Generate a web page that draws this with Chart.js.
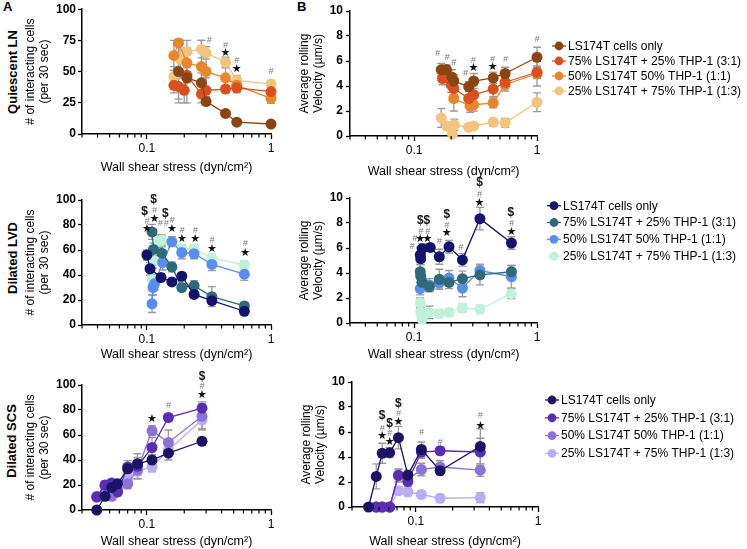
<!DOCTYPE html>
<html>
<head>
<meta charset="utf-8">
<script src="https://cdn.jsdelivr.net/npm/chart.js@4.4.1/dist/chart.umd.min.js"></script>
<style>
  body { margin: 0; background: #fff; }
  #fig { position: relative; width: 747px; height: 549px; overflow: hidden; font-family: "Liberation Sans", Arial, sans-serif; color: #000; }
  canvas { position: absolute; }
  .rowlab { position: absolute; font-weight: bold; font-size: 13px; white-space: nowrap; transform: translate(-50%, -50%) rotate(-90deg); }
  .letter { position: absolute; font-weight: bold; font-size: 13px; line-height: 14px; }
</style>
</head>
<body>
<div id="fig">
  <div class="letter" style="left:3px;top:0px">A</div>
  <div class="letter" style="left:297px;top:0px">B</div>
  <div class="rowlab" style="left:12px;top:72px">Quiescent LN</div>
  <div class="rowlab" style="left:12px;top:258px">Dilated LVD</div>
  <div class="rowlab" style="left:11px;top:441px">Dilated SCS</div>

  <canvas id="lnCnt" width="285" height="175" style="left:0;top:0"></canvas>
  <canvas id="lnVel" width="462" height="179" style="left:285px;top:0"></canvas>
  <canvas id="lvdCnt" width="285" height="177" style="left:0;top:185px"></canvas>
  <canvas id="lvdVel" width="462" height="186" style="left:285px;top:176px"></canvas>
  <canvas id="scsCnt" width="285" height="179" style="left:0;top:370px"></canvas>
  <canvas id="scsVel" width="462" height="179" style="left:285px;top:370px"></canvas>
</div>

<script>
// ---- shared labels / ticks
const groupLabels = ['LS174T cells only', '75% LS174T + 25% THP-1 (3:1)', '50% LS174T 50% THP-1 (1:1)', '25% LS174T + 75% THP-1 (1:3)'];
const shearTicks = [0.03, 0.04, 0.05, 0.06, 0.07, 0.08, 0.09, 0.1, 0.2, 0.3, 0.4, 0.5, 0.6, 0.7, 0.8, 0.9, 1];
const shearTickLabels = ['', '', '', '', '', '', '', '0.1', '', '', '', '', '', '', '', '', '1'];

// ---- Quiescent LN : interacting cells
const lnCntLsX = [0.18, 0.21, 0.275, 0.3, 0.43, 0.53, 1];
const lnCntLsY = [50, 45, 41, 26, 16.5, 9.5, 8];
const lnCntLsE = [25, 20, 8, 3, 2, 2, 2];
const lnCnt31X = [0.165, 0.18, 0.2, 0.21, 0.275, 0.3, 0.43, 0.53, 1];
const lnCnt31Y = [39, 38, 35, 47, 32, 35, 36, 37, 34];
const lnCnt31E = [6, 10, 10, 6, 7, 10, 3, 4, 3];
const lnCnt11X = [0.165, 0.18, 0.21, 0.275, 0.3, 0.43, 0.53, 1];
const lnCnt11Y = [63, 73, 57, 54, 50, 45, 39, 28.5];
const lnCnt11E = [12, 3, 12, 21, 20, 8, 5, 4];
const lnCnt13X = [0.165, 0.185, 0.21, 0.275, 0.3, 0.43, 0.53, 1];
const lnCnt13Y = [46, 60, 66, 68, 65, 57.5, 43, 40];
const lnCnt13E = [8, 15, 9, 7, 5, 4, 4, 3];
const lnCntMarks = [[0.318, 75, '#'], [0.43, 71, '#'], [0.43, 64.5, '★'], [0.53, 58.5, '#'], [0.53, 52, '★'], [1, 50, '#']];

// ---- Quiescent LN : rolling velocity
const lnVelLsX = [0.166, 0.183, 0.203, 0.21, 0.278, 0.305, 0.44, 0.55, 1];
const lnVelLsY = [5.3, 5.3, 4.7, 4.4, 3.95, 4.4, 4.65, 5.0, 6.3];
const lnVelLsE = [0.5, 0.4, 0.6, 0.5, 0.4, 0.6, 0.45, 0.5, 0.8];
const lnVel31X = [0.17, 0.2, 0.21, 0.278, 0.305, 0.44, 0.55, 1];
const lnVel31Y = [4.6, 4.1, 3.8, 3.0, 3.3, 3.75, 4.3, 5.1];
const lnVel31E = [0.5, 0.6, 0.5, 0.7, 0.7, 0.6, 0.5, 0.5];
const lnVel11X = [0.175, 0.21, 0.285, 0.305, 0.44, 0.55, 1];
const lnVel11Y = [4.9, 3.0, 2.4, 2.5, 2.65, 4.1, 5.0];
const lnVel11E = [0.5, 1.0, 0.5, 0.5, 0.4, 0.5, 1.0];
const lnVel13X = [0.166, 0.185, 0.205, 0.212, 0.278, 0.305, 0.44, 0.55, 1];
const lnVel13Y = [1.45, 0.8, 0.15, 0.9, 0.7, 0.8, 1.1, 1.05, 2.7];
const lnVel13E = [0.75, 0.3, 0.3, 0.45, 0.25, 0.25, 0.3, 0.35, 0.75];
const lnVelMarks = [[0.155, 6.6, '#'], [0.185, 6.3, '#'], [0.21, 5.9, '#'], [0.262, 5.0, '#'], [0.303, 6.05, '#'], [0.303, 5.45, '★'],
  [0.435, 6.1, '#'], [0.435, 5.5, '★'], [0.553, 6.1, '#'], [1, 7.7, '#']];

// ---- Dilated LVD : interacting cells
const lvdCntLsX = [0.1, 0.106, 0.13, 0.159, 0.191, 0.24, 0.334, 0.61];
const lvdCntLsY = [56, 45, 38, 34.5, 39, 24.5, 19.5, 11];
const lvdCntLsE = [4, 5, 3, 2, 3, 2, 3, 2];
const lvdCnt31X = [0.11, 0.113, 0.132, 0.159, 0.191, 0.24, 0.334, 0.61];
const lvdCnt31Y = [74.5, 60.5, 57.5, 46.5, 30, 31.5, 22.7, 15.3];
const lvdCnt31E = [6, 5, 5, 4, 3, 4, 8, 3];
const lvdCnt11X = [0.11, 0.112, 0.115, 0.134, 0.159, 0.191, 0.24, 0.334, 0.61];
const lvdCnt11Y = [17, 30, 33, 50, 66.7, 58, 57, 48.5, 40.7];
const lvdCnt11E = [7, 6, 5, 6, 4, 5, 4, 5, 5];
const lvdCnt13X = [0.11, 0.112, 0.125, 0.132, 0.191, 0.24, 0.334, 0.61];
const lvdCnt13Y = [36.5, 50.5, 67, 68, 61, 61, 53.5, 48];
const lvdCnt13E = [4, 5, 5, 4, 3, 3, 3, 3];
const lvdCntMarks = [[0.1, 76.5, '★'], [0.1, 83, '#'], [0.096, 91, '$'], [0.115, 85, '★'], [0.115, 92, '#'], [0.113, 100.5, '$'],
  [0.128, 81, '#'], [0.143, 81, '#'], [0.141, 89, '$'], [0.159, 76.5, '★'], [0.159, 83.5, '#'], [0.192, 69, '★'], [0.192, 76, '#'],
  [0.245, 69, '★'], [0.245, 76, '#'], [0.334, 60.5, '★'], [0.334, 67.5, '#'], [0.62, 57.3, '★'], [0.62, 65, '#']];

// ---- Dilated LVD : rolling velocity
const lvdVelLsX = [0.112, 0.113, 0.116, 0.135, 0.16, 0.192, 0.247, 0.343, 0.619];
const lvdVelLsY = [5.45, 5.15, 5.95, 6.05, 5.3, 6.1, 5.05, 8.35, 6.4];
const lvdVelLsE = [0.6, 0.5, 0.4, 0.3, 0.6, 0.5, 0.5, 0.9, 0.5];
const lvdVel31X = [0.112, 0.113, 0.116, 0.133, 0.16, 0.192, 0.247, 0.343, 0.619];
const lvdVel31Y = [4.1, 3.75, 3.25, 2.9, 3.5, 3.25, 3.55, 3.85, 4.1];
const lvdVel31E = [0.6, 0.6, 0.5, 0.4, 0.8, 0.5, 0.6, 0.8, 0.5];
const lvdVel11X = [0.112, 0.116, 0.133, 0.16, 0.192, 0.247, 0.343, 0.619];
const lvdVel11Y = [2.75, 3.3, 3.05, 3.2, 3.6, 2.8, 4.2, 3.7];
const lvdVel11E = [0.5, 0.5, 0.5, 0.5, 0.6, 0.7, 0.5, 0.9];
const lvdVel13X = [0.112, 0.113, 0.116, 0.133, 0.16, 0.192, 0.247, 0.343, 0.619];
const lvdVel13Y = [1.6, 0.85, 0.3, 0.85, 0.75, 0.85, 1.2, 1.1, 2.35];
const lvdVel13E = [0.4, 0.4, 0.3, 0.5, 0.3, 0.3, 0.3, 0.3, 0.4];
const lvdVelMarks = [[0.096, 6.1, '#'], [0.101, 6.75, '#'], [0.112, 6.7, '★'], [0.113, 7.35, '#'], [0.112, 8.2, '$'], [0.128, 6.7, '★'],
  [0.129, 7.35, '#'], [0.127, 8.2, '$'], [0.16, 6.5, '#'], [0.184, 7.15, '★'], [0.184, 7.8, '#'], [0.184, 8.7, '$'], [0.239, 6.05, '#'],
  [0.34, 9.6, '★'], [0.34, 10.3, '#'], [0.34, 11.2, '$'], [0.619, 7.3, '★'], [0.619, 7.95, '#'], [0.612, 8.8, '$']];

// ---- Dilated SCS : interacting cells
const scsCntX = [0.0395, 0.046, 0.052, 0.058, 0.07, 0.084, 0.11, 0.149, 0.278];
const scsCntLsY = [0, 11, 18, 21, 33, 37, 40, 45.5, 55];
const scsCntLsE = [0, 3, 3, 3, 4, 8, 4, 2, 2];
const scsCnt31Y = [10.5, 20, 21.5, 14.5, 34.5, 35, 50, 74, 81.5];
const scsCnt31E = [3, 3, 3, 3, 5, 7, 8, 3, 5];
const scsCnt11Y = [11, 19.5, 11, 14.5, 21, 32, 63.5, 54, 75];
const scsCnt11E = [2, 3, 3, 3, 4, 7, 4, 10, 10];
const scsCnt13Y = [10, 18, 22, 16, 25, 31, 34.5, 48, 72];
const scsCnt13E = [2, 3, 3, 3, 4, 6, 4, 8, 8];
const scsCntMarks = [[0.11, 72.5, '★'], [0.149, 84, '#'], [0.278, 92, '★'], [0.278, 98.5, '#'], [0.278, 107, '$']];

// ---- Dilated SCS : rolling velocity
const scsVelLsX = [0.041, 0.0474, 0.053, 0.061, 0.072, 0.086, 0.111, 0.158, 0.337];
const scsVelLsY = [0, 2.45, 4.3, 4.35, 5.55, 2.55, 4.6, 2.9, 4.85];
const scsVelLsE = [0, 1.0, 0.8, 0.4, 0.9, 0.4, 0.6, 0.3, 1.4];
const scsVelMixX = [0.0474, 0.053, 0.061, 0.072, 0.086, 0.111, 0.158, 0.337];
const scsVel31Y = [0, 0, 0, 2.55, 2.05, 4.4, 4.5, 4.4];
const scsVel31E = [0, 0, 0, 0.5, 0.4, 0.5, 0.3, 1.1];
const scsVel11Y = [0, 0, 0, 2.5, 2.2, 3.0, 3.2, 2.95];
const scsVel11E = [0, 0, 0, 0.5, 0.4, 0.5, 0.5, 0.5];
const scsVel13Y = [0, 0, 0, 1.3, 1.2, 1.0, 0.7, 0.75];
const scsVel13E = [0, 0, 0, 0.3, 0.3, 0.3, 0.3, 0.4];
const scsVelMarks = [[0.053, 7.3, '$'], [0.053, 6.3, '#'], [0.053, 5.65, '★'], [0.061, 6.7, '$'], [0.061, 5.9, '#'], [0.061, 5.2, '★'],
  [0.072, 8.3, '$'], [0.072, 7.5, '#'], [0.072, 6.8, '★'], [0.111, 6.0, '#'], [0.158, 5.2, '#'], [0.337, 7.3, '#'], [0.337, 6.5, '★']];

// ---- colours per row
const lnColors = ['#8B4513', '#D9501E', '#E8862E', '#F2C47E'];
const lvdColors = ['#13136B', '#2E6A7A', '#5B8DEF', '#BFF2D8'];
const scsColors = ['#1B1464', '#5A2DB3', '#8C72D6', '#B8AEF8'];

Chart.defaults.font.family = '"Liberation Sans", Arial, sans-serif';
Chart.defaults.color = '#000';

const isDecade = v => Math.abs(Math.log10(v) - Math.round(Math.log10(v))) < 1e-9;

// gray SEM bars under the points
const errorBars = {
  id: 'errorBars',
  beforeDatasetsDraw(chart) {
    const ctx = chart.ctx, ys = chart.scales.y;
    ctx.save();
    ctx.strokeStyle = '#9a9a9a';
    ctx.lineWidth = 1.3;
    chart.data.datasets.forEach((ds, i) => {
      chart.getDatasetMeta(i).data.forEach((pt, j) => {
        const e = ds.sd[j], v = ds.data[j].y;
        if (!e) return;
        const top = ys.getPixelForValue(v + e), bot = ys.getPixelForValue(Math.max(0, v - e));
        ctx.beginPath();
        ctx.moveTo(pt.x, top); ctx.lineTo(pt.x, bot);
        ctx.moveTo(pt.x - 4, top); ctx.lineTo(pt.x + 4, top);
        ctx.moveTo(pt.x - 4, bot); ctx.lineTo(pt.x + 4, bot);
        ctx.stroke();
      });
    });
    ctx.restore();
  }
};

// short minor ticks on the log axis
const minorTicks = {
  id: 'minorTicks',
  afterDraw(chart) {
    const sx = chart.scales.x, ctx = chart.ctx, b = chart.chartArea.bottom;
    ctx.save();
    ctx.strokeStyle = '#000';
    ctx.lineWidth = 1.2;
    sx.ticks.forEach(t => {
      if (isDecade(t.value)) return;
      const px = sx.getPixelForValue(t.value);
      ctx.beginPath(); ctx.moveTo(px, b); ctx.lineTo(px, b + 3.5); ctx.stroke();
    });
    ctx.restore();
  }
};

// significance symbols (#, star, $)
function sigMarks(marks) {
  return {
    id: 'sigMarks',
    afterDatasetsDraw(chart) {
      const ctx = chart.ctx, sx = chart.scales.x, sy = chart.scales.y;
      ctx.save();
      ctx.textAlign = 'center';
      ctx.textBaseline = 'middle';
      marks.forEach(([x, y, s]) => {
        if (s === '#') { ctx.font = 'italic 9px "Liberation Sans", Arial'; ctx.fillStyle = '#777'; }
        else if (s === '$') { ctx.font = 'bold 12px "Liberation Sans", Arial'; ctx.fillStyle = '#111'; }
        else { ctx.font = '11px "DejaVu Sans", sans-serif'; ctx.fillStyle = '#111'; }
        ctx.fillText(s, sx.getPixelForValue(x), sy.getPixelForValue(y));
      });
      ctx.restore();
    }
  };
}

// legend to the right of the velocity panels
function sideLegend(x0, y0, gap) {
  return {
    id: 'sideLegend',
    afterDraw(chart) {
      const ctx = chart.ctx;
      ctx.save();
      ctx.font = '12px "Liberation Sans", Arial';
      ctx.textBaseline = 'middle';
      ctx.textAlign = 'left';
      chart.data.datasets.forEach((ds, i) => {
        const y = y0 + i * gap;
        ctx.strokeStyle = ds.borderColor;
        ctx.lineWidth = 1.3;
        ctx.beginPath(); ctx.moveTo(x0, y); ctx.lineTo(x0 + 14, y); ctx.stroke();
        ctx.fillStyle = ds.borderColor;
        ctx.beginPath(); ctx.arc(x0 + 7, y, 4.4, 0, Math.PI * 2); ctx.fill();
        ctx.fillStyle = '#000';
        ctx.fillText(ds.label, x0 + 16, y + 0.5);
      });
      ctx.restore();
    }
  };
}

function makePanel(id, o) {
  const datasets = o.series.map((s, i) => ({
    label: groupLabels[i],
    data: s[0].map((x, j) => ({ x: x, y: s[1][j] })),
    sd: s[2],
    borderColor: o.colors[i],
    backgroundColor: o.colors[i],
    pointBackgroundColor: o.colors[i],
    pointBorderColor: o.colors[i],
    borderWidth: 1.3,
    pointRadius: 5.5,
    pointBorderWidth: 0,
    tension: 0,
    clip: false
  }));
  const plugins = [errorBars, minorTicks, sigMarks(o.marks)];
  if (o.legend) plugins.push(sideLegend(...o.legend));

  new Chart(document.getElementById(id), {
    type: 'line',
    data: { datasets: datasets },
    options: {
      responsive: false,
      animation: false,
      layout: { padding: o.pad },
      plugins: { legend: { display: false }, tooltip: { enabled: false } },
      scales: {
        x: {
          type: 'logarithmic', min: 0.03, max: 1,
          afterBuildTicks: s => { s.ticks = shearTicks.map(v => ({ value: v })); },
          afterFit: s => { s.height = o.xH; },
          ticks: { autoSkip: false, maxRotation: 0, padding: 2, font: { size: 12 }, callback: (v, i) => shearTickLabels[i] },
          grid: { drawOnChartArea: false, tickLength: 5, tickWidth: 1.3,
                  tickColor: c => (c.tick && isDecade(c.tick.value)) ? '#000' : 'rgba(0,0,0,0)' },
          border: { color: '#000', width: 1.5 },
          title: { display: true, text: 'Wall shear stress (dyn/cm²)', color: '#000',
                   font: { size: 12.5, lineHeight: 1.2 }, padding: { top: 0, bottom: 0 } }
        },
        y: {
          min: 0, max: o.ymax,
          afterFit: s => { s.width = o.yW; },
          ticks: { stepSize: o.step, padding: o.yPad, font: { size: 12, weight: 'bold' } },
          grid: { drawOnChartArea: false, tickLength: 4, tickWidth: 1.3, tickColor: '#000' },
          border: { color: '#000', width: 1.5 },
          title: { display: true, text: o.ytitle, color: '#000',
                   font: { size: 12, lineHeight: 1.17 }, padding: { top: 0, bottom: 0 } }
        }
      }
    },
    plugins: plugins
  });
}

const cntTitle = ['# of interacting cells', '(per 30 sec)'];
const velTitle = ['Average rolling', 'Velocity (µm/s)'];

makePanel('lnCnt', {
  series: [[lnCntLsX, lnCntLsY, lnCntLsE], [lnCnt31X, lnCnt31Y, lnCnt31E], [lnCnt11X, lnCnt11Y, lnCnt11E], [lnCnt13X, lnCnt13Y, lnCnt13E]],
  colors: lnColors, marks: lnCntMarks, ymax: 100, step: 25, ytitle: cntTitle,
  pad: { top: 9, left: 24, right: 14, bottom: 0 }, yW: 58, xH: 41, yPad: 2
});
makePanel('lnVel', {
  series: [[lnVelLsX, lnVelLsY, lnVelLsE], [lnVel31X, lnVel31Y, lnVel31E], [lnVel11X, lnVel11Y, lnVel11E], [lnVel13X, lnVel13Y, lnVel13E]],
  colors: lnColors, marks: lnVelMarks, ymax: 10, step: 2, ytitle: velTitle,
  pad: { top: 11, left: 13, right: 210, bottom: 0 }, yW: 52, xH: 43, yPad: 3,
  legend: [267, 46, 15]
});
makePanel('lvdCnt', {
  series: [[lvdCntLsX, lvdCntLsY, lvdCntLsE], [lvdCnt31X, lvdCnt31Y, lvdCnt31E], [lvdCnt11X, lvdCnt11Y, lvdCnt11E], [lvdCnt13X, lvdCnt13Y, lvdCnt13E]],
  colors: lvdColors, marks: lvdCntMarks, ymax: 100, step: 20, ytitle: cntTitle,
  pad: { top: 15, left: 24, right: 14, bottom: 0 }, yW: 58, xH: 37, yPad: 2
});
makePanel('lvdVel', {
  series: [[lvdVelLsX, lvdVelLsY, lvdVelLsE], [lvdVel31X, lvdVel31Y, lvdVel31E], [lvdVel11X, lvdVel11Y, lvdVel11E], [lvdVel13X, lvdVel13Y, lvdVel13E]],
  colors: lvdColors, marks: lvdVelMarks, ymax: 10, step: 2, ytitle: velTitle,
  pad: { top: 22, left: 13, right: 210, bottom: 0 }, yW: 52, xH: 39, yPad: 3,
  legend: [262, 29.7, 16.8]
});
makePanel('scsCnt', {
  series: [[scsCntX, scsCntLsY, scsCntLsE], [scsCntX, scsCnt31Y, scsCnt31E], [scsCntX, scsCnt11Y, scsCnt11E], [scsCntX, scsCnt13Y, scsCnt13E]],
  colors: scsColors, marks: scsCntMarks, ymax: 100, step: 20, ytitle: cntTitle,
  pad: { top: 15, left: 24, right: 14, bottom: 0 }, yW: 58, xH: 39, yPad: 2
});
makePanel('scsVel', {
  series: [[scsVelLsX, scsVelLsY, scsVelLsE], [scsVelMixX, scsVel31Y, scsVel31E], [scsVelMixX, scsVel11Y, scsVel11E], [scsVelMixX, scsVel13Y, scsVel13E]],
  colors: scsColors, marks: scsVelMarks, ymax: 10, step: 2, ytitle: velTitle,
  pad: { top: 12, left: 15, right: 209, bottom: 0 }, yW: 52, xH: 42, yPad: 3,
  legend: [260, 30, 17.8]
});
</script>
</body>
</html>
